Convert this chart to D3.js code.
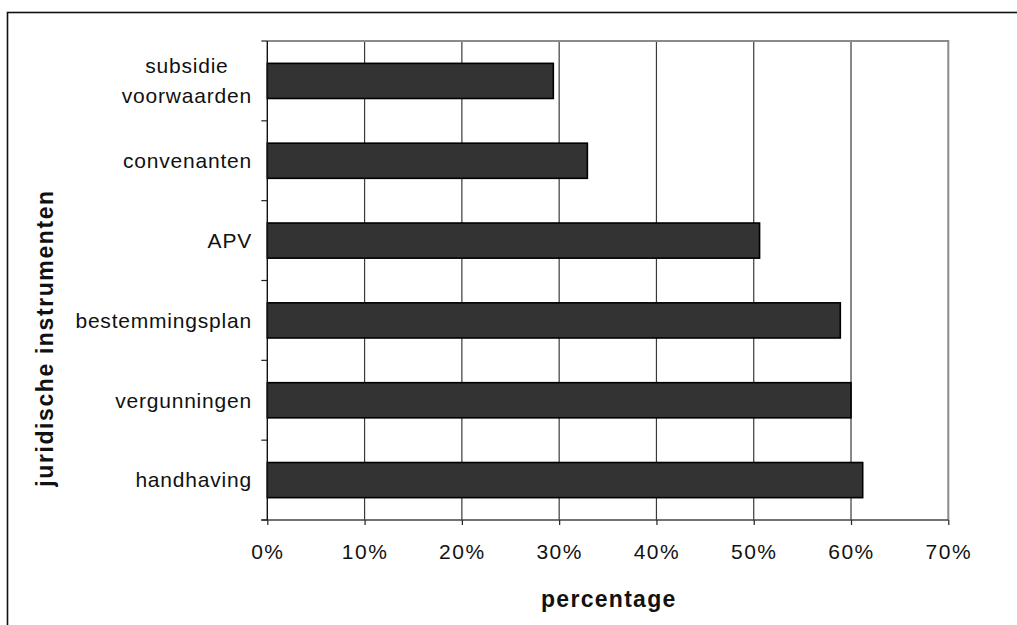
<!DOCTYPE html>
<html>
<head>
<meta charset="utf-8">
<script src="https://cdn.jsdelivr.net/npm/d3@7"></script>
<style>
  html, body { margin: 0; padding: 0; background: #fff; }
  svg { display: block; }
  text { font-family: "Liberation Sans", Arial, sans-serif; fill: #111; }
</style>
</head>
<body>
<svg id="chart" width="1017" height="625"></svg>
<script>
// Share of municipalities using each legal instrument (%)
const categories = [
  ["subsidie", "voorwaarden"],
  ["convenanten"],
  ["APV"],
  ["bestemmingsplan"],
  ["vergunningen"],
  ["handhaving"]
];
const values = [29.4, 32.9, 50.6, 58.9, 60.0, 61.2];
const xTicks = [0, 10, 20, 30, 40, 50, 60, 70];
const xTitle = "percentage";
const yTitle = "juridische instrumenten";

const svg = d3.select("#chart");
const plotLeft = 267.3, plotRight = 948.3, plotTop = 41, plotBottom = 520;

const keys = categories.map(c => c.join(" "));
const x = d3.scaleLinear().domain([0, 70]).range([plotLeft, plotRight]);
const y = d3.scaleBand().domain(keys).range([plotTop, plotBottom])
  .paddingInner(0.56).paddingOuter(0.28);
const band = d3.scaleBand().domain(keys).range([plotTop, plotBottom]);

// outer frame (open to the right and bottom)
svg.append("rect")
  .attr("x", 7.5).attr("y", 12.5)
  .attr("width", 1040).attr("height", 650)
  .attr("fill", "none").attr("stroke", "#111").attr("stroke-width", 1.6);

// vertical gridlines
svg.append("g").selectAll("line")
  .data(xTicks.filter(t => t > 0 && t < 70))
  .join("line")
  .attr("x1", d => x(d)).attr("x2", d => x(d))
  .attr("y1", plotTop).attr("y2", plotBottom)
  .attr("stroke", "#3a3a3a").attr("stroke-width", 1.2);

// plot area top/right edges
svg.append("path")
  .attr("d", `M${plotLeft},${plotTop}H${plotRight}V${plotBottom}`)
  .attr("fill", "none").attr("stroke", "#8a8a8a").attr("stroke-width", 2);

// bars
svg.append("g").selectAll("rect")
  .data(values)
  .join("rect")
  .attr("x", x(0))
  .attr("y", (d, i) => y(keys[i]))
  .attr("width", d => x(d) - x(0))
  .attr("height", y.bandwidth())
  .attr("fill", "#333333")
  .attr("stroke", "#000").attr("stroke-width", 1.6);

// x axis
const xAxis = d3.axisBottom(x)
  .tickValues(xTicks)
  .tickFormat(d => d + "%")
  .tickSize(5)
  .tickPadding(20);
const gx = svg.append("g").attr("transform", `translate(0,${plotBottom})`).call(xAxis);
gx.select(".domain").attr("stroke", "#444").attr("stroke-width", 1.5)
  .attr("d", `M${plotLeft - 6},0H${plotRight}`);
gx.selectAll(".tick line").attr("stroke", "#222").attr("stroke-width", 1.2);
gx.selectAll(".tick text")
  .attr("font-size", 21).attr("letter-spacing", "1.5px")
  .attr("fill", "#111").attr("dy", "0.71em").attr("y", 24)
  .style("font-family", '"Liberation Sans", Arial, sans-serif');

// y axis line and tick marks at band boundaries
svg.append("line")
  .attr("x1", plotLeft).attr("x2", plotLeft).attr("y1", plotTop).attr("y2", plotBottom)
  .attr("stroke", "#111").attr("stroke-width", 1.4);
const bounds = keys.map(k => band(k)).concat([plotBottom]);
svg.append("g").selectAll("line")
  .data(bounds)
  .join("line")
  .attr("x1", plotLeft - 6).attr("x2", plotLeft)
  .attr("y1", d => d).attr("y2", d => d)
  .attr("stroke", "#222").attr("stroke-width", 1.2);

// category labels
const lineGap = 30;
const labels = svg.append("g");
categories.forEach((lines, i) => {
  const cy = band(keys[i]) + band.bandwidth() / 2;
  const isMulti = lines.length > 1;
  const t = labels.append("text")
    .attr("font-size", 21).attr("letter-spacing", "0.8px")
    .attr("text-anchor", isMulti ? "middle" : "end");
  lines.forEach((l, j) => {
    t.append("tspan")
      .attr("x", 252)
      .attr("y", cy + (j - (lines.length - 1) / 2) * lineGap)
      .attr("dy", "0.35em")
      .text(l);
  });
  if (isMulti) {
    // centre the lines on each other, right-aligned as a block
    const w = t.node().getBBox().width;
    t.selectAll("tspan").attr("x", 252 - w / 2);
  }
});

// axis titles
svg.append("text")
  .attr("x", (plotLeft + plotRight) / 2 + 1).attr("y", 607)
  .attr("text-anchor", "middle")
  .attr("font-size", 23).attr("font-weight", "bold")
  .attr("letter-spacing", "1.3px")
  .text(xTitle);

svg.append("text")
  .attr("transform", "translate(53,338) rotate(-90)")
  .attr("text-anchor", "middle")
  .attr("font-size", 23).attr("font-weight", "bold")
  .attr("letter-spacing", "1.6px")
  .text(yTitle);
</script>
</body>
</html>
